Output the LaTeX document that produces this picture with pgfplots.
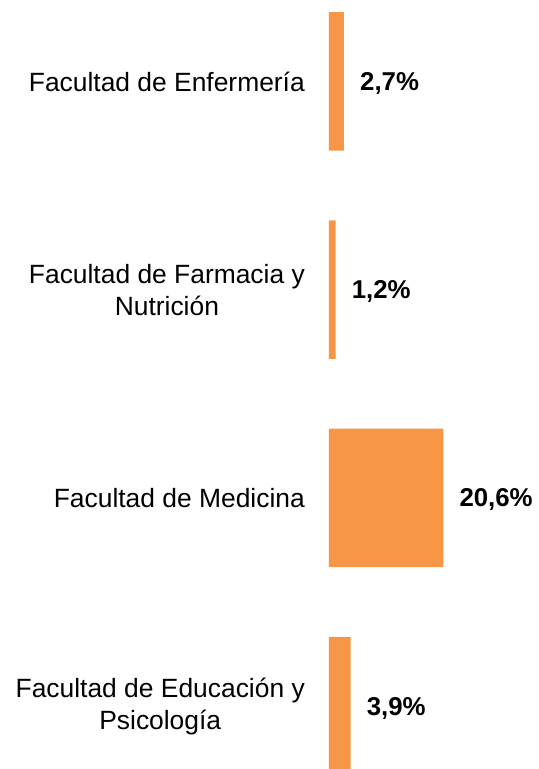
\documentclass[border=0pt]{standalone}
\usepackage{fontspec}
\setmainfont{Liberation Sans}
\usepackage{pgfplots}
\pgfplotsset{compat=1.18}
\definecolor{barorange}{HTML}{F79646}
\begin{document}
\begin{tikzpicture}
\begin{axis}[
  name=ax,
  scale only axis,
  width=210pt, height=769pt,
  xbar, bar width=138.5pt,
  xmin=0, xmax=37.84,
  ymin=-0.3016, ymax=3.3914,
  axis line style={draw=none},
  xtick=\empty,
  ytick={0,1,2,3},
  yticklabels={{Facultad de Educación y\\Psicología},{Facultad de Medicina},{Facultad de Farmacia y\\Nutrición},{Facultad de Enfermería}},
  major tick length=0pt,
  ytick style={draw=none},
  yticklabel style={font=\fontsize{26.4}{32}\selectfont, align=center, anchor=east, inner sep=0pt, xshift=-24pt},
  point meta=explicit symbolic,
  nodes near coords,
  nodes near coords style={font=\fontsize{25.8}{30}\selectfont\bfseries, anchor=west, inner sep=0pt, xshift=16pt, yshift=-2pt, text=black},
]
\addplot[fill=barorange, draw=none] table[meta=lab] {
x y lab
3.9 0 3,9\%
20.6 1 20,6\%
1.2 2 1,2\%
2.7 3 2,7\%
};
\coordinate (bl) at (rel axis cs:0,0);
\coordinate (tr) at (rel axis cs:1,1);
\end{axis}
\pgfresetboundingbox
\path (bl) ++(-329pt,0) rectangle (tr);
\end{tikzpicture}
\end{document}
